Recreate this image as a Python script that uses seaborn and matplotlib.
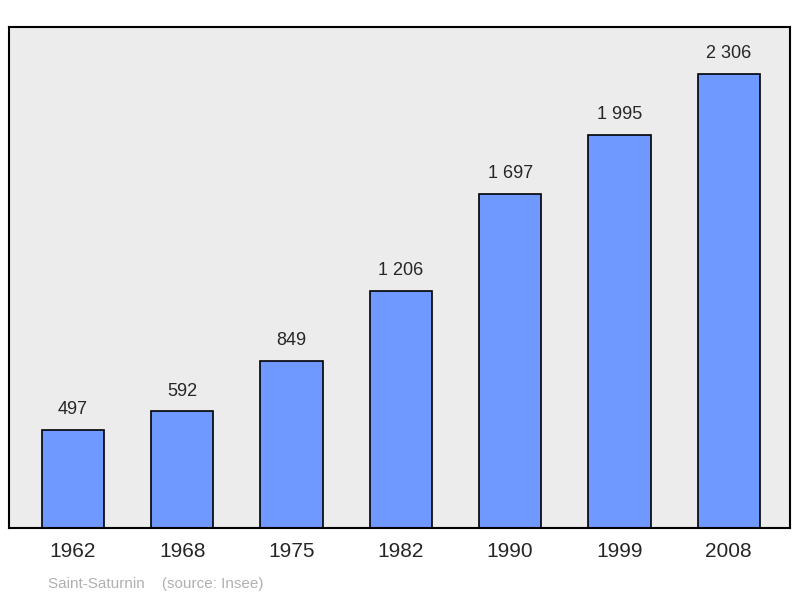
import matplotlib
matplotlib.use("Agg")
import matplotlib.pyplot as plt
import seaborn as sns
import pandas as pd

years = ["1962", "1968", "1975", "1982", "1990", "1999", "2008"]
population = [497, 592, 849, 1206, 1697, 1995, 2306]
labels = ["497", "592", "849", "1 206", "1 697", "1 995", "2 306"]

sns.set_style("white")
plt.rcParams["font.family"] = ["Liberation Sans", "DejaVu Sans"]

df = pd.DataFrame({"year": years, "pop": population})

fig = plt.figure(figsize=(8, 5.98), dpi=100)
ax = fig.add_axes([9 / 800, 70 / 598, 781 / 800, 501 / 598])
ax.set_facecolor("#ececec")

sns.barplot(data=df, x="year", y="pop", color="#7099ff", saturation=1,
            width=0.57, edgecolor="black", linewidth=1.2, ax=ax)

for i, (v, t) in enumerate(zip(population, labels)):
    ax.text(i, v + 60, t, ha="center", va="bottom", fontsize=13)

ax.set_xlim(-0.585, 6.56)
ax.set_ylim(0, 2545)
ax.set_yticks([])
ax.set_xlabel("")
ax.set_ylabel("")
ax.tick_params(axis="x", length=0, labelsize=15, pad=10)
for s in ax.spines.values():
    s.set_linewidth(1.5)
    s.set_color("black")

fig.text(48 / 800, 1 - 584 / 598, "Saint-Saturnin    (source: Insee)",
         fontsize=11, color="#b0b0b0", va="center")

fig.savefig("out.png", dpi=100)
